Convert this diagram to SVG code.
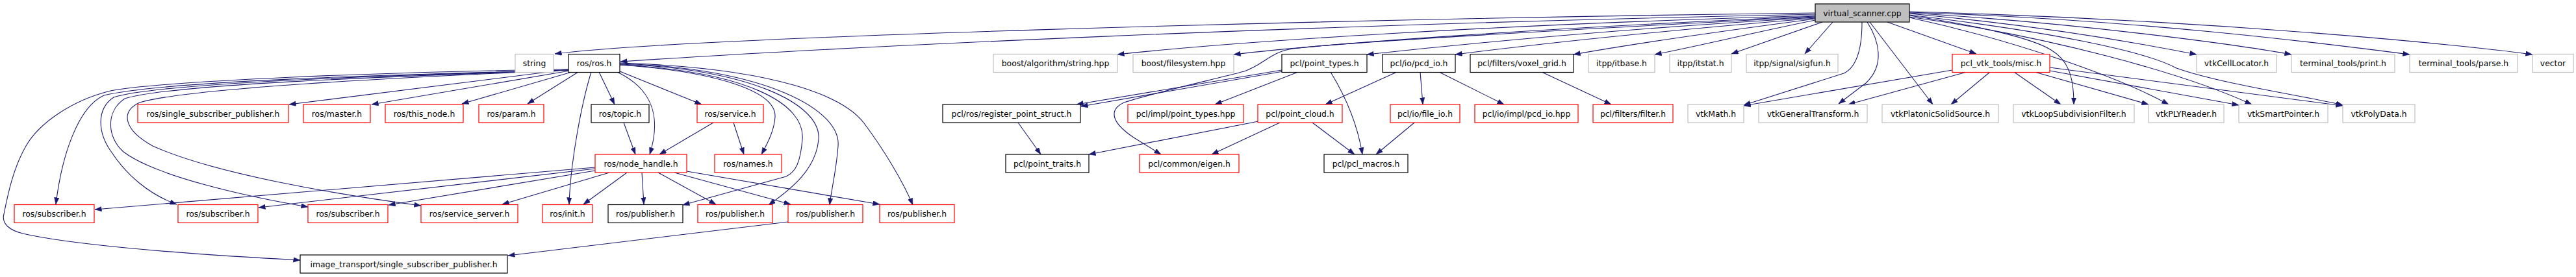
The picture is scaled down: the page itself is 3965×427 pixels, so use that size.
<svg xmlns="http://www.w3.org/2000/svg" width="3965" height="427" viewBox="0 0 3965 427">
<style>
.n rect{fill:#ffffff;stroke-width:1.2}
.red rect{stroke:#ff0000}
.blk rect{stroke:#000000}
.gry rect{stroke:#bfbfbf}
.root rect{fill:#bfbfbf;stroke:#000000}
text{font-family:"DejaVu Sans","Liberation Sans",sans-serif;font-size:12.4px;text-anchor:middle;fill:#000000}
#edges path{fill:none;stroke:#191970;stroke-width:1.1;marker-end:url(#ah)}
</style>
<defs>
<marker id="ah" markerUnits="userSpaceOnUse" markerWidth="11" markerHeight="8" refX="10.5" refY="3.75" orient="auto">
<path d="M0,0 L10.5,3.75 L0,7.5 z" fill="#191970" stroke="#191970" stroke-width="0.5"/>
</marker>
</defs>
<rect width="3965" height="427" fill="#ffffff"/>
<g id="edges">
<!-- root edges -->
<path d="M2794,20 C2000,30 1050,58 854,83"/>
<path d="M2794,22 C2000,38 1300,72 955,95"/>
<path d="M2794,24 C2300,38 1900,64 1720,84"/>
<path d="M2794,25 C2400,42 2050,66 1899,84"/>
<path d="M2794,26 C2400,46 2060,66 1990,75 C1955,80 1945,100 1915,110 C1870,122 1780,142 1730,158 C1705,170 1712,190 1745,212 L1787,238"/>
<path d="M2794,27 C2500,44 2250,68 2104,84"/>
<path d="M2794,28 C2550,48 2350,70 2240,84"/>
<path d="M2794,29 C2650,48 2500,70 2422,84"/>
<path d="M2794,31 C2700,50 2610,72 2547,84"/>
<path d="M2805,34 L2665,83"/>
<path d="M2821,34 L2778,83"/>
<path d="M2866,34 C2866,80 2855,105 2838,113 L2684,162"/>
<path d="M2874,34 C2892,62 2902,100 2872,128 L2830,160"/>
<path d="M2878,34 L2975,161"/>
<path d="M2905,34 L3042,83"/>
<path d="M2939,24 C3050,40 3130,60 3157,77 C3182,92 3192,115 3192,161"/>
<path d="M2939,27 C3100,62 3260,118 3338,161"/>
<path d="M2939,26 C3150,55 3360,112 3466,161"/>
<path d="M2939,23 C3150,48 3300,78 3350,105 C3420,130 3560,150 3606,162"/>
<path d="M2939,21 C3150,40 3300,68 3381,84"/>
<path d="M2939,20 C3200,35 3450,70 3527,84"/>
<path d="M2939,19 C3300,30 3600,70 3709,84"/>
<path d="M2939,18 C3400,30 3800,70 3898,84"/>
<!-- ros.h edges -->
<path d="M875,107 L445,161"/>
<path d="M877,109 L572,161"/>
<path d="M880,111 L711,160"/>
<path d="M890,111 L812,160"/>
<path d="M922,111 L946,161"/>
<path d="M910,111 C895,160 878,250 876,315"/>
<path d="M950,111 C1000,135 1020,175 1000,238"/>
<path d="M954,110 L1080,161"/>
<path d="M954,100 C1100,110 1195,140 1193,180 C1192,200 1182,220 1172,238"/>
<path d="M954,100 C1150,110 1240,160 1235,215 C1232,250 1225,265 1210,272 L1051,316"/>
<path d="M954,99 C1150,105 1265,160 1260,215 C1256,260 1220,290 1183,316"/>
<path d="M954,98 C1180,105 1295,170 1290,225 C1287,265 1280,290 1277,316"/>
<path d="M954,97 C1200,105 1300,150 1330,190 C1360,230 1390,280 1405,316"/>
<path d="M875,108 C600,115 250,125 160,147 C120,165 95,240 86,315"/>
<path d="M875,108 C600,116 240,128 175,150 C148,168 150,205 172,235 C195,270 230,300 272,315"/>
<path d="M875,108 C600,118 260,130 192,152 C162,172 165,212 190,234 C240,272 380,303 474,319"/>
<path d="M875,108 C600,120 290,136 215,158 C185,172 190,200 235,225 C330,268 520,300 648,317"/>
<path d="M875,107 C600,110 250,125 170,140 C110,155 60,190 40,225 C20,260 12,300 6,330 C2,345 15,355 35,360 C100,375 250,390 462,401"/>
<!-- ros second level -->
<path d="M960,189 L978,238"/>
<path d="M1098,189 L1015,238"/>
<path d="M1129,189 L1145,238"/>
<path d="M916,258 L146,323"/>
<path d="M916,260 L398,320"/>
<path d="M916,263 L598,316"/>
<path d="M938,266 L773,315"/>
<path d="M965,266 L898,315"/>
<path d="M988,266 L991,315"/>
<path d="M1013,266 L1102,315"/>
<path d="M1038,266 L1217,315"/>
<path d="M1057,264 L1354,315"/>
<path d="M1213,342 L782,394"/>
<!-- pcl edges -->
<path d="M1973,108 L1657,161"/>
<path d="M1975,110 L1664,164"/>
<path d="M1998,111 L1870,161"/>
<path d="M2048,111 C2075,155 2090,195 2097,238"/>
<path d="M2150,111 L2040,161"/>
<path d="M2186,111 L2190,161"/>
<path d="M2215,111 L2315,161"/>
<path d="M2373,111 L2480,161"/>
<path d="M2020,189 L2085,238"/>
<path d="M2177,189 L2118,238"/>
<path d="M1970,189 L1865,238"/>
<path d="M1937,187 L1676,238"/>
<path d="M1567,189 L1602,238"/>
<!-- misc.h edges -->
<path d="M3005,108 L2684,163"/>
<path d="M3027,111 L2845,161"/>
<path d="M3063,111 L3003,161"/>
<path d="M3100,111 L3172,161"/>
<path d="M3132,111 L3307,161"/>
<path d="M3155,109 L3446,162"/>
<path d="M3155,104 L3606,163"/>
</g>
<g id="n_root" class="n root"><rect x="2794" y="6" width="145" height="28"/><text x="2866.5" y="24.5">virtual_scanner.cpp</text></g>
<g id="n_string" class="n gry"><rect x="793" y="83.5" width="59" height="28"/><text x="822.5" y="102">string</text></g>
<g id="n_ros" class="n blk"><rect x="875" y="83.5" width="79" height="28"/><text x="914.5" y="102">ros/ros.h</text></g>
<g id="n_balgo" class="n gry"><rect x="1529" y="83.5" width="191" height="28"/><text x="1624.5" y="102">boost/algorithm/string.hpp</text></g>
<g id="n_bfs" class="n gry"><rect x="1744" y="83.5" width="155" height="28"/><text x="1821.5" y="102">boost/filesystem.hpp</text></g>
<g id="n_pt" class="n blk"><rect x="1973" y="83.5" width="131" height="28"/><text x="2038.5" y="102">pcl/point_types.h</text></g>
<g id="n_pcdio" class="n blk"><rect x="2128" y="83.5" width="112" height="28"/><text x="2184" y="102">pcl/io/pcd_io.h</text></g>
<g id="n_voxel" class="n blk"><rect x="2263" y="83.5" width="159" height="28"/><text x="2342.5" y="102">pcl/filters/voxel_grid.h</text></g>
<g id="n_itbase" class="n gry"><rect x="2445" y="83.5" width="102" height="28"/><text x="2496" y="102">itpp/itbase.h</text></g>
<g id="n_itstat" class="n gry"><rect x="2570" y="83.5" width="95" height="28"/><text x="2617.5" y="102">itpp/itstat.h</text></g>
<g id="n_sigfun" class="n gry"><rect x="2688" y="83.5" width="141" height="28"/><text x="2758.5" y="102">itpp/signal/sigfun.h</text></g>
<g id="n_misc" class="n red"><rect x="3005" y="83.5" width="150" height="28"/><text x="3080" y="102">pcl_vtk_tools/misc.h</text></g>
<g id="n_cell" class="n gry"><rect x="3381" y="83.5" width="123" height="28"/><text x="3442.5" y="102">vtkCellLocator.h</text></g>
<g id="n_print" class="n gry"><rect x="3527" y="83.5" width="159" height="28"/><text x="3606.5" y="102">terminal_tools/print.h</text></g>
<g id="n_parse" class="n gry"><rect x="3709" y="83.5" width="166" height="28"/><text x="3792" y="102">terminal_tools/parse.h</text></g>
<g id="n_vector" class="n gry"><rect x="3898" y="83.5" width="63" height="28"/><text x="3929.5" y="102">vector</text></g>
<g id="n_ssp" class="n red"><rect x="212" y="161" width="232" height="28"/><text x="328" y="179.5">ros/single_subscriber_publisher.h</text></g>
<g id="n_master" class="n red"><rect x="467" y="161" width="103" height="28"/><text x="518.5" y="179.5">ros/master.h</text></g>
<g id="n_thisnode" class="n red"><rect x="593" y="161" width="120" height="28"/><text x="653" y="179.5">ros/this_node.h</text></g>
<g id="n_param" class="n red"><rect x="737" y="161" width="100" height="28"/><text x="787" y="179.5">ros/param.h</text></g>
<g id="n_topic" class="n blk"><rect x="910" y="161" width="89" height="28"/><text x="954.5" y="179.5">ros/topic.h</text></g>
<g id="n_service" class="n red"><rect x="1073" y="161" width="102" height="28"/><text x="1124" y="179.5">ros/service.h</text></g>
<g id="n_rps" class="n blk"><rect x="1451" y="161" width="212" height="28"/><text x="1557" y="179.5">pcl/ros/register_point_struct.h</text></g>
<g id="n_pthpp" class="n red"><rect x="1736" y="161" width="178" height="28"/><text x="1825" y="179.5">pcl/impl/point_types.hpp</text></g>
<g id="n_pc" class="n red"><rect x="1936" y="161" width="130" height="28"/><text x="2001" y="179.5">pcl/point_cloud.h</text></g>
<g id="n_fileio" class="n red"><rect x="2140" y="161" width="107" height="28"/><text x="2193.5" y="179.5">pcl/io/file_io.h</text></g>
<g id="n_pcdhpp" class="n red"><rect x="2270" y="161" width="159" height="28"/><text x="2349.5" y="179.5">pcl/io/impl/pcd_io.hpp</text></g>
<g id="n_filter" class="n red"><rect x="2452" y="161" width="123" height="28"/><text x="2513.5" y="179.5">pcl/filters/filter.h</text></g>
<g id="n_vmath" class="n gry"><rect x="2598" y="161" width="86" height="28"/><text x="2641" y="179.5">vtkMath.h</text></g>
<g id="n_vgt" class="n gry"><rect x="2707" y="161" width="167" height="28"/><text x="2790.5" y="179.5">vtkGeneralTransform.h</text></g>
<g id="n_vps" class="n gry"><rect x="2897" y="161" width="179" height="28"/><text x="2986.5" y="179.5">vtkPlatonicSolidSource.h</text></g>
<g id="n_vlsf" class="n gry"><rect x="3099" y="161" width="186" height="28"/><text x="3192" y="179.5">vtkLoopSubdivisionFilter.h</text></g>
<g id="n_vply" class="n gry"><rect x="3307" y="161" width="116" height="28"/><text x="3365" y="179.5">vtkPLYReader.h</text></g>
<g id="n_vsp" class="n gry"><rect x="3446" y="161" width="137" height="28"/><text x="3514.5" y="179.5">vtkSmartPointer.h</text></g>
<g id="n_vpd" class="n gry"><rect x="3606" y="161" width="111" height="28"/><text x="3661.5" y="179.5">vtkPolyData.h</text></g>
<g id="n_nh" class="n red"><rect x="916" y="238" width="141" height="28"/><text x="986.5" y="256.5">ros/node_handle.h</text></g>
<g id="n_names" class="n red"><rect x="1100" y="238" width="103" height="28"/><text x="1151.5" y="256.5">ros/names.h</text></g>
<g id="n_ptraits" class="n blk"><rect x="1548" y="238" width="128" height="28"/><text x="1612" y="256.5">pcl/point_traits.h</text></g>
<g id="n_eigen" class="n red"><rect x="1754" y="238" width="153" height="28"/><text x="1830.5" y="256.5">pcl/common/eigen.h</text></g>
<g id="n_macros" class="n blk"><rect x="2038" y="238" width="129" height="28"/><text x="2102.5" y="256.5">pcl/pcl_macros.h</text></g>
<g id="n_sub1" class="n red"><rect x="22" y="315.5" width="123" height="28"/><text x="83.5" y="334">ros/subscriber.h</text></g>
<g id="n_sub2" class="n red"><rect x="274" y="315.5" width="123" height="28"/><text x="335.5" y="334">ros/subscriber.h</text></g>
<g id="n_sub3" class="n red"><rect x="474" y="315.5" width="123" height="28"/><text x="535.5" y="334">ros/subscriber.h</text></g>
<g id="n_ss" class="n red"><rect x="648" y="315.5" width="149" height="28"/><text x="722.5" y="334">ros/service_server.h</text></g>
<g id="n_init" class="n red"><rect x="835" y="315.5" width="77" height="28"/><text x="873.5" y="334">ros/init.h</text></g>
<g id="n_pub0" class="n blk"><rect x="936" y="315.5" width="115" height="28"/><text x="993.5" y="334">ros/publisher.h</text></g>
<g id="n_pub1" class="n red"><rect x="1074" y="315.5" width="115" height="28"/><text x="1131.5" y="334">ros/publisher.h</text></g>
<g id="n_pub2" class="n red"><rect x="1213" y="315.5" width="115" height="28"/><text x="1270.5" y="334">ros/publisher.h</text></g>
<g id="n_pub3" class="n red"><rect x="1354" y="315.5" width="115" height="28"/><text x="1411.5" y="334">ros/publisher.h</text></g>
<g id="n_itssp" class="n blk"><rect x="462" y="393" width="319" height="28"/><text x="621.5" y="411.5">image_transport/single_subscriber_publisher.h</text></g>
</svg>
